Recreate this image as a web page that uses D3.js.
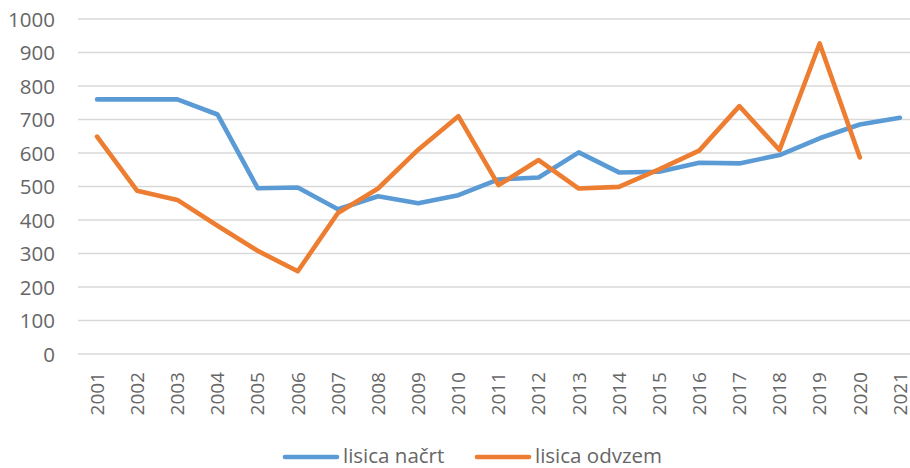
<!DOCTYPE html>
<html>
<head>
<meta charset="utf-8">
<script src="https://cdn.jsdelivr.net/npm/d3@7"></script>
<style>
  html, body { margin: 0; padding: 0; background: #fff; overflow: hidden; }
  svg { display: block; }
  text { font-family: "Open Sans", sans-serif; fill: #666; }
</style>
</head>
<body>
<svg id="chart" width="910" height="468"></svg>
<script>
const years = ["2001","2002","2003","2004","2005","2006","2007","2008","2009","2010","2011","2012","2013","2014","2015","2016","2017","2018","2019","2020","2021"];
const nacrt = [760, 760, 760, 715, 495, 497, 432, 471, 450, 474, 521, 527, 602, 542, 544, 571, 569, 594, 644, 685, 705];
const odvzem = [649, 487, 460, 383, 308, 247, 421, 494, 610, 710, 504, 579, 494, 499, 551, 607, 740, 609, 927, 587];
const yTicks = [0, 100, 200, 300, 400, 500, 600, 700, 800, 900, 1000];
const seriesNames = ["lisica načrt", "lisica odvzem"];
const seriesColors = ["#5B9BD5", "#ED7D31"];

const svg = d3.select("#chart");
const pLeft = 77, pRight = 920, pTop = 19, pBottom = 354;

const x = d3.scaleBand().domain(years).range([pLeft, pRight]).paddingInner(0).paddingOuter(0);
const y = d3.scaleLinear().domain([0, 1000]).range([pBottom, pTop]);
const cx = d => x(d) + x.bandwidth() / 2;

// gridlines
svg.append("g").selectAll("line").data(yTicks).join("line")
  .attr("x1", pLeft + 1).attr("x2", pRight)
  .attr("y1", d => y(d)).attr("y2", d => y(d))
  .attr("stroke", "#d9d9d9").attr("stroke-width", 1.5);

// y axis labels
const yAxis = d3.axisLeft(y).tickValues(yTicks).tickFormat(d3.format("d")).tickSize(0).tickPadding(0);
const yg = svg.append("g").attr("transform", `translate(55,0)`).call(yAxis);
yg.select(".domain").remove();
yg.selectAll("text").style("font-size", "20.5px").attr("fill", "#666")
  .style("font-family", "'Open Sans', sans-serif").attr("dy", "0.35em").attr("x", 0);

// x axis labels
const xAxis = d3.axisBottom(x).tickSize(0).tickPadding(0);
const xg = svg.append("g").attr("transform", `translate(0,${pBottom})`).call(xAxis);
xg.select(".domain").remove();
xg.selectAll("text")
  .style("font-size", "19px").attr("fill", "#666")
  .style("font-family", "'Open Sans', sans-serif")
  .attr("transform", "rotate(-90)")
  .attr("text-anchor", "end")
  .attr("x", -18).attr("y", 0).attr("dy", "0.36em");

// lines
const line = d3.line().x((d, i) => cx(years[i])).y(d => y(d));
[nacrt, odvzem].forEach((vals, k) => {
  svg.append("path").datum(vals)
    .attr("fill", "none")
    .attr("stroke", seriesColors[k])
    .attr("stroke-width", 4.6)
    .attr("stroke-linejoin", "round")
    .attr("stroke-linecap", "round")
    .attr("d", line);
});

// legend
const legendItems = [
  { x1: 285, x2: 337, tx: 343 },
  { x1: 477, x2: 529, tx: 535 }
];
seriesNames.forEach((name, k) => {
  const it = legendItems[k];
  svg.append("line").attr("x1", it.x1).attr("x2", it.x2).attr("y1", 457).attr("y2", 457)
    .attr("stroke", seriesColors[k]).attr("stroke-width", 4.6).attr("stroke-linecap", "round");
  svg.append("text").attr("x", it.tx).attr("y", 456).attr("dy", "0.35em")
    .style("font-size", "20.5px").text(name);
});
</script>
</body>
</html>
